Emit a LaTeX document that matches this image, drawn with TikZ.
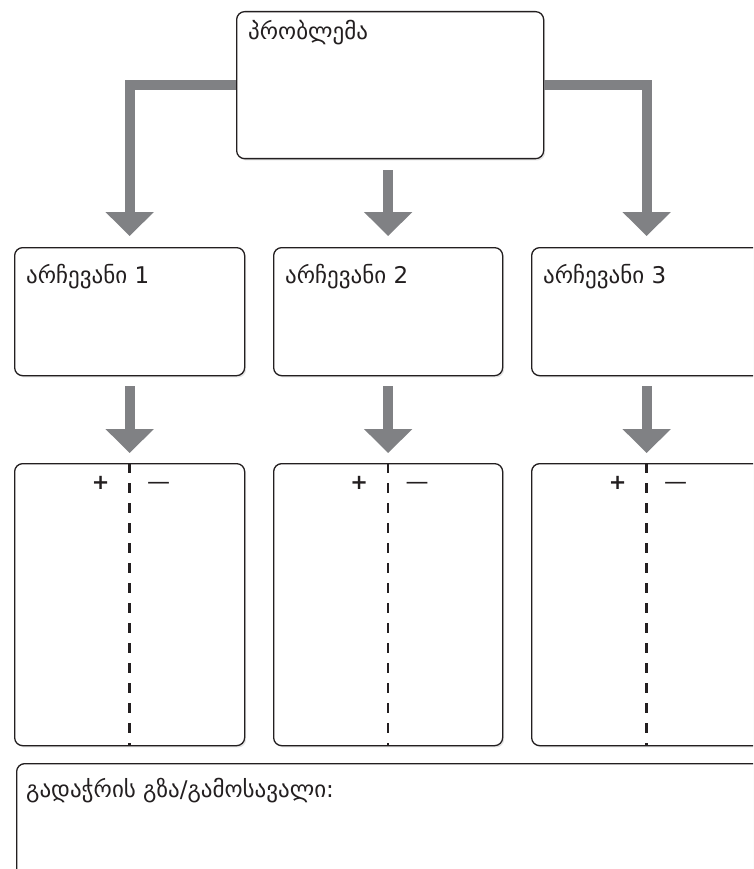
\documentclass[tikz,border=0pt]{standalone}
\usepackage{fontspec}
\setmainfont{DejaVu Sans}
\usetikzlibrary{arrows.meta,shadows,calc}
\definecolor{arrowgray}{HTML}{808184}
\definecolor{boxline}{HTML}{231F20}
\begin{document}
\begin{tikzpicture}[x=1pt,y=-1pt,
  box/.style={draw=boxline, line width=1.3pt, rounded corners=8pt, fill=white,
    drop shadow={opacity=0.22, shadow xshift=1.5pt, shadow yshift=-1.8pt},
    inner sep=0pt, anchor=north west},
  bigarrow/.style={draw=arrowgray, line width=10pt, line join=miter,
    -{Triangle[width=47pt,length=24pt]}},
  dashline/.style={draw=boxline, line width=2.4pt, dash pattern=on 10pt off 10pt},
  lbl/.style={anchor=base west, inner sep=0pt, font=\fontsize{23}{26}\selectfont, text=boxline},
  sign/.style={inner sep=0pt, font=\fontsize{21}{22}\selectfont, text=boxline}
]
\useasboundingbox (0,0) rectangle (753,869);
\clip (0,0) rectangle (753,869);
% boxes
\node[box, minimum width=307pt, minimum height=147pt] (top) at (236,11) {};
\node[box, minimum width=230pt, minimum height=128pt] (c1) at (14,247) {};
\node[box, minimum width=229pt, minimum height=128pt] (c2) at (273,247) {};
\node[box, minimum width=230pt, minimum height=128pt] (c3) at (531,247) {};
\node[box, minimum width=230pt, minimum height=282pt] (p1) at (14,463) {};
\node[box, minimum width=229pt, minimum height=282pt] (p2) at (273,463) {};
\node[box, minimum width=230pt, minimum height=282pt] (p3) at (531,463) {};
\node[box, minimum width=760pt, minimum height=140pt] (res) at (16,763) {};
% labels
\node[lbl] (ttop) at (248,40) {პრობლემა};
\node[lbl] (t1) at (26,283) {არჩევანი 1};
\node[lbl] (t2) at (285,283) {არჩევანი 2};
\node[lbl] (t3) at (543,283) {არჩევანი 3};
\node[lbl] (tres) at (26,797) {გადაჭრის გზა/გამოსავალი:};
% arrows
\draw[bigarrow, shorten >=11pt] (top.west) -| (c1.north);
\draw[bigarrow, shorten >=11pt] (top.east) -| (c3.north);
\draw[bigarrow, shorten <=11pt, shorten >=11pt] (top.south -| c2.north) -- (c2.north);
\draw[bigarrow, shorten <=10pt, shorten >=10pt] (c1.south) -- (p1.north);
\draw[bigarrow, shorten <=10pt, shorten >=10pt] (c2.south) -- (p2.north);
\draw[bigarrow, shorten <=10pt, shorten >=10pt] (c3.south) -- (p3.north);
% pro/con
\foreach \p in {p1,p2,p3}{
  \draw[dashline] (\p.north) -- (\p.south);
  \node[sign] (\p plus) at ($(\p.north)+(-29,20)$) {\textbf{+}};
  \node[sign, font=\fontsize{23}{24}\selectfont] (\p minus) at ($(\p.north)+(29,23)$) {—};
}
\end{tikzpicture}
\end{document}
